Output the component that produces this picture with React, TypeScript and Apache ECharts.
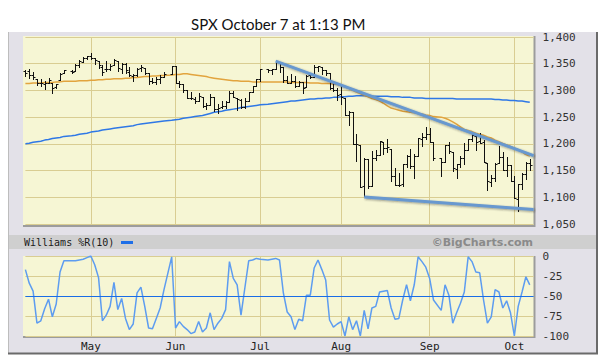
import React, { useEffect, useRef } from "react";
import * as echarts from "echarts";

// ---------- DATA ----------
const titleText = "SPX October 7 at 1:13 PM";

const tradingDays = [
  "04-07","04-08","04-11","04-12","04-13","04-14","04-15","04-18","04-19","04-20","04-21","04-25","04-26","04-27","04-28","04-29",
  "05-02","05-03","05-04","05-05","05-06","05-09","05-10","05-11","05-12","05-13","05-16","05-17","05-18","05-19","05-20","05-23","05-24","05-25","05-26","05-27","05-31",
  "06-01","06-02","06-03","06-06","06-07","06-08","06-09","06-10","06-13","06-14","06-15","06-16","06-17","06-20","06-21","06-22","06-23","06-24","06-27","06-28","06-29","06-30",
  "07-01","07-05","07-06","07-07","07-08","07-11","07-12","07-13","07-14","07-15","07-18","07-19","07-20","07-21","07-22","07-25","07-26","07-27","07-28","07-29",
  "08-01","08-02","08-03","08-04","08-05","08-08","08-09","08-10","08-11","08-12","08-15","08-16","08-17","08-18","08-19","08-22","08-23","08-24","08-25","08-26","08-29","08-30","08-31",
  "09-01","09-02","09-06","09-07","09-08","09-09","09-12","09-13","09-14","09-15","09-16","09-19","09-20","09-21","09-22","09-23","09-26","09-27","09-28","09-29","09-30",
  "10-03","10-04","10-05","10-06","10-07",
];

const opens = [
  1335.9,1336.2,1329.0,1322.0,1314.0,1311.1,1314.5,1313.4,1306.0,1319.1,1333.2,1337.1,1336.8,1348.4,1353.9,1360.1,
  1365.2,1359.8,1355.9,1344.2,1340.2,1340.2,1348.3,1354.5,1339.4,1348.7,1334.8,1326.1,1328.5,1342.4,1342.0,1333.1,1317.7,1316.4,1320.6,1325.7,1331.1,
  1345.2,1314.6,1312.9,1300.3,1286.3,1284.6,1279.6,1288.6,1271.3,1272.2,1287.9,1265.5,1268.6,1271.5,1278.4,1295.5,1286.6,1283.0,1268.4,1280.2,1296.8,1307.6,
  1320.6,1339.6,1337.6,1339.6,1352.4,1343.3,1319.6,1314.5,1317.7,1308.9,1315.9,1307.1,1328.7,1325.6,1343.8,1344.3,1337.4,1331.9,1304.8,1300.1,
  1292.6,1286.6,1254.3,1260.2,1200.3,1198.5,1120.2,1171.8,1121.3,1172.9,1178.9,1204.2,1192.9,1189.6,1140.5,1123.6,1124.4,1162.2,1176.7,1158.9,1177.9,1209.8,1213.0,
  1219.1,1203.9,1174.0,1165.9,1198.0,1185.4,1153.5,1162.6,1173.3,1189.4,1209.2,1215.0,1204.5,1203.6,1164.6,1128.8,1136.9,1163.3,1175.4,1151.7,1159.9,
  1131.2,1097.4,1124.0,1144.1,1165.0,
];
const highs = [
  1338.8,1339.5,1333.8,1322.0,1321.4,1316.8,1322.9,1313.4,1312.7,1332.7,1337.5,1337.6,1349.6,1357.5,1361.7,1364.6,
  1370.6,1360.8,1355.9,1348.0,1354.4,1349.4,1359.4,1354.5,1351.1,1350.5,1343.3,1330.4,1341.8,1346.8,1342.0,1333.1,1323.7,1325.9,1328.5,1334.6,1345.2,
  1345.2,1318.0,1312.9,1300.3,1296.2,1287.0,1294.5,1288.6,1277.0,1292.5,1287.9,1274.1,1279.8,1280.4,1298.6,1298.6,1286.6,1283.9,1284.9,1296.8,1309.2,1322.0,
  1341.0,1340.9,1340.9,1356.5,1352.4,1343.3,1327.2,1331.5,1326.9,1317.7,1315.9,1328.1,1330.4,1347.0,1346.1,1344.3,1338.5,1331.9,1316.3,1304.2,
  1307.4,1286.6,1261.2,1260.2,1218.1,1198.5,1172.9,1171.8,1186.3,1189.0,1204.5,1204.2,1208.5,1189.6,1154.5,1145.5,1162.4,1178.6,1190.7,1181.2,1210.1,1220.1,1230.7,
  1229.3,1203.9,1174.0,1198.6,1204.4,1185.4,1162.5,1176.4,1202.4,1209.1,1220.1,1215.0,1220.4,1206.3,1164.6,1141.7,1164.2,1195.9,1184.7,1175.1,1159.9,
  1139.0,1125.1,1146.1,1165.6,1171.4,
];
const lows = [
  1326.1,1322.9,1321.1,1309.5,1309.2,1302.4,1313.7,1294.7,1304.0,1319.1,1332.3,1331.7,1336.8,1344.3,1353.6,1358.7,
  1358.6,1349.5,1341.5,1329.2,1335.6,1338.6,1348.3,1336.4,1332.0,1333.4,1327.3,1318.5,1326.6,1336.4,1330.7,1312.6,1313.9,1311.8,1314.4,1325.7,1331.1,
  1313.7,1305.6,1297.9,1284.9,1284.7,1277.4,1279.6,1268.3,1265.6,1272.2,1261.9,1258.1,1267.4,1267.6,1278.4,1286.8,1262.9,1267.2,1267.5,1280.2,1296.8,1307.6,
  1318.2,1334.3,1330.9,1339.6,1333.7,1316.4,1313.3,1314.5,1306.5,1307.4,1295.9,1307.1,1323.7,1325.6,1336.0,1331.1,1329.6,1303.5,1299.2,1282.9,
  1274.7,1254.0,1234.6,1199.5,1168.1,1119.3,1101.5,1118.0,1121.3,1170.7,1178.9,1180.5,1184.5,1131.0,1122.1,1121.1,1121.6,1156.3,1155.1,1135.9,1177.9,1195.8,1209.4,
  1203.9,1170.6,1140.1,1165.9,1183.3,1148.4,1136.1,1157.4,1162.7,1189.4,1204.5,1188.4,1201.3,1166.4,1114.2,1121.4,1131.1,1163.3,1150.3,1139.9,1131.3,
  1098.9,1074.8,1115.7,1135.0,1150.3,
];
const closes = [
  1333.5,1328.2,1324.5,1314.2,1314.4,1314.5,1319.7,1305.1,1312.6,1330.4,1337.4,1335.3,1347.2,1355.7,1360.5,1363.6,
  1361.2,1356.6,1347.3,1335.1,1340.2,1346.3,1357.2,1342.1,1348.7,1337.8,1329.5,1329.0,1340.7,1343.6,1333.3,1317.4,1316.3,1320.5,1325.7,1331.1,1345.2,
  1314.6,1312.9,1300.2,1286.2,1284.9,1279.6,1289.0,1271.0,1271.8,1287.9,1265.4,1267.6,1271.5,1278.4,1295.5,1287.1,1283.5,1268.5,1280.1,1296.7,1307.4,1320.6,
  1339.7,1337.9,1339.2,1353.2,1343.8,1319.5,1313.6,1317.7,1308.9,1316.1,1305.4,1326.7,1325.8,1343.8,1345.0,1337.4,1331.9,1304.9,1300.7,1292.3,
  1286.9,1254.1,1260.3,1200.1,1199.4,1119.5,1172.5,1120.8,1172.6,1178.8,1204.5,1192.8,1193.9,1140.7,1123.5,1123.8,1162.4,1177.6,1159.3,1176.8,1210.1,1212.9,1218.9,
  1204.4,1174.0,1165.2,1198.6,1185.9,1154.2,1162.3,1172.9,1188.7,1209.1,1216.0,1204.1,1202.1,1166.8,1129.6,1136.4,1163.0,1175.4,1151.1,1160.4,1131.4,
  1099.2,1124.0,1144.0,1165.0,1160.0,
];

// 50-day (orange) and 200-day (blue) moving averages
const ma50 = [
  1313,1313,1314,1314,1314,1315,1315,1315,1316,1316,
  1317,1317,1317,1318,1318,1318,1319,1319,1320,1320,
  1321,1321,1322,1322,1322,1323,1323,1324,1324,1325,
  1326,1326,1327,1327,1328,1328,1329,1330,1330,1331,
  1331,1330,1329,1328,1327,1326,1324,1323,1322,1321,
  1320,1319,1318,1318,1317,1317,1317,1316,1316,1316,
  1316,1316,1316,1316,1316,1316,1315,1315,1315,1315,
  1315,1314,1314,1314,1313,1313,1313,1312,1311,1309,
  1307,1304,1300,1297,1294,1291,1288,1285,1283,1280,
  1276,1271,1267,1265,1263,1261,1260,1259,1258,1257,
  1256,1254,1253,1251,1250,1248,1245,1241,1237,1232,
  1227,1225,1223,1220,1218,1216,1213,1211,1207,1204,
  1201,1198,1195,1192,1189,1185,1180,1177,
];
const ma200 = [
  1200,1201,1203,1204,1205,1207,1208,1210,1211,1212,1214,1215,1216,1218,1219,1220,1222,1223,1224,1226,
  1227,1228,1229,1230,1231,1232,1233,1234,1236,1237,1238,1239,1240,1241,1242,1243,1244,1245,1246,1248,
  1249,1250,1251,1252,1253,1255,1257,1259,
  1260,1261,1263,1264,1265,1266,1268,1269,1270,
  1271,1272,1273,1274,1275,1276,1277,1278,
  1279,1280,1280,1281,1282,1283,1284,1284,
  1285,1285,1286,1286,1287,1287,1288,
  1288,1289,1289,1290,1290,1290,1290,1289,1289,1289,
  1289,1289,1288,1288,1288,1287,1287,1287,1286,1286,1286,1285,
  1285,1285,1285,1285,1285,1285,1284,1284,1284,1284,1284,1284,1284,1284,1284,1284,
  1283,1283,1282,1282,1281,1281,1280,1280,1279,1278,
];

// Williams %R(10)
const williams = [
  -17,-34,-44,-84,-81,-66,-54,-76,-60,-20,-6,-6,-6,-5,-4,-2,
  0,-11,-27,-81,-74,-63,-33,-67,-53,-78,-92,-85,-46,-39,-63,-90,-91,-78,-65,-42,-1,
  -90,-82,-88,-92,-97,-95,-82,-95,-90,-71,-92,-84,-78,-67,-7,-28,-36,-74,-40,-6,-5,-3,
  -4,-5,-4,-3,-5,-46,-70,-76,-92,-79,-81,-49,-49,-15,-5,-17,-30,-80,-89,-85,
  -82,-100,-76,-92,-81,-100,-68,-91,-65,-63,-45,-44,-43,-65,-79,-78,-55,-36,-56,-36,-1,-7,-14,
  -28,-55,-68,-36,-49,-84,-71,-59,-45,-1,-7,-20,-21,-55,-84,-76,-42,-45,-65,-56,-71,
  -100,-63,-45,-26,-36,
];

// hand-drawn trend lines (endpoints)
const upperTrend: [string, number][] = [["2011-07-07", 1355], ["2011-10-10", 1178]];
const lowerTrend: [string, number][] = [["2011-08-09", 1100.5], ["2011-10-10", 1077]];

const monthStarts = ["2011-05-02", "2011-06-01", "2011-07-01", "2011-08-01", "2011-09-01", "2011-10-03"];
const monthLabels = ["May", "Jun", "Jul", "Aug", "Sep", "Oct"];

const priceTicks = { min: 1050, max: 1400, step: 50 };
const wrTicks = { min: -100, max: 0, step: 25 };

// ---------- helpers ----------
function weekdaySlots(): string[] {
  const out: string[] = [];
  let t = Date.UTC(2011, 3, 7);
  const end = Date.UTC(2011, 9, 10);
  while (t <= end) {
    const d = new Date(t);
    const wd = d.getUTCDay();
    if (wd !== 0 && wd !== 6) out.push(d.toISOString().slice(0, 10));
    t += 86400000;
  }
  return out;
}

const TAN = "#d9cd92";
const YELLOW = "#f6f6d4";
const FRAME = "#e3e1e8";
const MONO = "'DejaVu Sans Mono', monospace";

export default function App() {
  const ref = useRef<HTMLDivElement>(null);

  useEffect(() => {
    if (!ref.current) return;
    const chart = echarts.init(ref.current, undefined, { renderer: "svg" });

    const slots = weekdaySlots();
    const slotIdx: Record<string, number> = {};
    slots.forEach((s, i) => (slotIdx[s] = i));
    const dates = tradingDays.map((d) => "2011-" + d);
    const monthSet = new Set(monthStarts.map((m) => slotIdx[m]));
    const monthName: Record<string, string> = {};
    monthStarts.forEach((m, i) => (monthName[m] = monthLabels[i]));

    const ohlc = dates.map((d, i) => [slotIdx[d], opens[i], highs[i], lows[i], closes[i]]);
    const ma50Data = dates.map((d, i) => [d, ma50[i]]);
    const ma200Data = dates.map((d, i) => [d, ma200[i]]);
    const wrData = dates.map((d, i) => [d, williams[i]]);

    const gridLeft = 25.4;
    const gridWidth = 508.2;

    const xBase = (gridIndex: number, showLabels: boolean) => ({
      type: "category",
      gridIndex,
      data: slots,
      boundaryGap: false,
      axisLine: { show: false },
      axisTick: { show: false },
      axisLabel: {
        show: showLabels,
        interval: (i: number) => monthSet.has(i),
        formatter: (v: string) => monthName[v] || "",
        fontFamily: MONO,
        fontSize: 11,
        color: "#222",
        margin: 5,
      },
      splitLine: {
        show: true,
        interval: (i: number) => monthSet.has(i),
        lineStyle: { color: TAN, width: 1 },
      },
    });

    const option: any = {
      animation: false,
      backgroundColor: "#ffffff",
      title: {
        text: titleText,
        left: 186,
        top: 11,
        textStyle: { fontFamily: "Lato", fontSize: 15, fontWeight: "normal", color: "#111" },
      },
      graphic: {
        elements: [
          { type: "rect", z: -100, shape: { x: 8, y: 32, width: 589, height: 321 }, style: { fill: FRAME } },
          { type: "line", z: -90, shape: { x1: 8.5, y1: 32, x2: 8.5, y2: 353 }, style: { stroke: "#bdbdbd", lineWidth: 1 } },
          { type: "line", z: -90, shape: { x1: 597, y1: 32, x2: 597, y2: 354 }, style: { stroke: "#6a6a6a", lineWidth: 2 } },
          { type: "line", z: -90, shape: { x1: 8, y1: 353.5, x2: 598, y2: 353.5 }, style: { stroke: "#6a6a6a", lineWidth: 2 } },
          // main plot background
          { type: "rect", z: -80, shape: { x: 23, y: 36, width: 511, height: 189 }, style: { fill: YELLOW } },
          { type: "line", z: -70, shape: { x1: 23, y1: 226, x2: 535, y2: 226 }, style: { stroke: "#9c9c9c", lineWidth: 2 } },
          { type: "line", z: -70, shape: { x1: 534.5, y1: 36, x2: 534.5, y2: 227 }, style: { stroke: "#9c9c9c", lineWidth: 2 } },
          // indicator header
          { type: "rect", z: -80, shape: { x: 9, y: 235, width: 587, height: 14 }, style: { fill: "#cfcfcf" } },
          {
            type: "text", z: 10, x: 24, y: 242,
            style: { text: "Williams %R(10)", fill: "#1a1a1a", font: "10px 'DejaVu Sans Mono', monospace", textVerticalAlign: "middle", verticalAlign: "middle" },
          },
          { type: "rect", z: 10, shape: { x: 121, y: 241, width: 12, height: 3 }, style: { fill: "#1f6fe8" } },
          {
            type: "text", z: 10, x: 533, y: 242,
            style: { text: "\u00A9BigCharts.com", fill: "#8a8a8a", font: "bold 11px 'DejaVu Sans', sans-serif", align: "right", textAlign: "right", verticalAlign: "middle", textVerticalAlign: "middle" },
          },
          // indicator plot background
          { type: "rect", z: -80, shape: { x: 23, y: 256, width: 511, height: 80 }, style: { fill: YELLOW } },
          { type: "line", z: -70, shape: { x1: 23, y1: 337, x2: 535, y2: 337 }, style: { stroke: "#9c9c9c", lineWidth: 2 } },
          { type: "line", z: -70, shape: { x1: 534.5, y1: 256, x2: 534.5, y2: 338 }, style: { stroke: "#9c9c9c", lineWidth: 2 } },
        ],
      },
      grid: [
        { left: gridLeft, top: 37, width: gridWidth, height: 187 },
        { left: gridLeft, top: 256, width: gridWidth, height: 80 },
      ],
      xAxis: [xBase(0, false), xBase(1, true)],
      yAxis: [
        {
          type: "value",
          gridIndex: 0,
          position: "right",
          min: priceTicks.min,
          max: priceTicks.max,
          interval: priceTicks.step,
          axisLine: { show: false },
          axisTick: { show: false },
          splitLine: { show: true, lineStyle: { color: TAN, width: 1 } },
          axisLabel: {
            margin: 9,
            fontFamily: MONO,
            fontSize: 11,
            color: "#333",
            formatter: (v: number) => v.toLocaleString("en-US"),
          },
        },
        {
          type: "value",
          gridIndex: 1,
          position: "right",
          min: wrTicks.min,
          max: wrTicks.max,
          interval: wrTicks.step,
          axisLine: { show: false },
          axisTick: { show: false },
          splitLine: { show: true, lineStyle: { color: TAN, width: 1 } },
          axisLabel: { margin: 9, fontFamily: MONO, fontSize: 11, color: "#333" },
        },
      ],
      series: [
        {
          name: "200-day MA",
          type: "line",
          xAxisIndex: 0,
          yAxisIndex: 0,
          data: ma200Data,
          showSymbol: false,
          symbol: "none",
          silent: true,
          lineStyle: { color: "#2f78e6", width: 1.5 },
          z: 2,
        },
        {
          name: "50-day MA",
          type: "line",
          xAxisIndex: 0,
          yAxisIndex: 0,
          data: ma50Data,
          showSymbol: false,
          symbol: "none",
          silent: true,
          lineStyle: { color: "#e2a43e", width: 1.5 },
          z: 2,
        },
        {
          name: "SPX",
          type: "custom",
          xAxisIndex: 0,
          yAxisIndex: 0,
          data: ohlc,
          encode: { x: 0, y: [1, 2, 3, 4] },
          z: 3,
          renderItem: (params: any, api: any) => {
            const xi = api.value(0);
            const o = api.coord([xi, api.value(1)]);
            const h = api.coord([xi, api.value(2)]);
            const l = api.coord([xi, api.value(3)]);
            const c = api.coord([xi, api.value(4)]);
            const x = Math.round(o[0]) + 0.5;
            const oy = Math.round(o[1]) + 0.5;
            const cy = Math.round(c[1]) + 0.5;
            const st = { stroke: "#111", lineWidth: 1 };
            return {
              type: "group",
              children: [
                { type: "line", shape: { x1: x, y1: Math.round(h[1]), x2: x, y2: Math.round(l[1]) + 1 }, style: st },
                { type: "line", shape: { x1: x - 2, y1: oy, x2: x, y2: oy }, style: st },
                { type: "line", shape: { x1: x, y1: cy, x2: x + 2, y2: cy }, style: st },
              ],
            };
          },
        },
        {
          name: "Upper trend",
          type: "line",
          xAxisIndex: 0,
          yAxisIndex: 0,
          data: upperTrend,
          showSymbol: false,
          symbol: "none",
          silent: true,
          z: 5,
          lineStyle: { color: "#6798cf", width: 3, shadowColor: "rgba(40,40,40,0.45)", shadowBlur: 2, shadowOffsetX: 1, shadowOffsetY: 1 },
        },
        {
          name: "Lower trend",
          type: "line",
          xAxisIndex: 0,
          yAxisIndex: 0,
          data: lowerTrend,
          showSymbol: false,
          symbol: "none",
          silent: true,
          z: 5,
          lineStyle: { color: "#6798cf", width: 3, shadowColor: "rgba(40,40,40,0.45)", shadowBlur: 2, shadowOffsetX: 1, shadowOffsetY: 1 },
        },
        {
          name: "Williams %R(10)",
          type: "line",
          xAxisIndex: 1,
          yAxisIndex: 1,
          data: wrData,
          showSymbol: false,
          symbol: "none",
          silent: true,
          z: 4,
          lineStyle: { color: "#5d9cf0", width: 1.5 },
          markLine: {
            silent: true,
            symbol: ["none", "none"],
            label: { show: false },
            lineStyle: { color: "#1a6de6", width: 1.2, type: "solid" },
            data: [{ yAxis: -50 }],
          },
        },
      ],
    };

    chart.setOption(option);
    return () => chart.dispose();
  }, []);

  return (
    <div
      ref={ref}
      style={{ position: "absolute", left: 0, top: 0, width: 609, height: 364 }}
    />
  );
}
